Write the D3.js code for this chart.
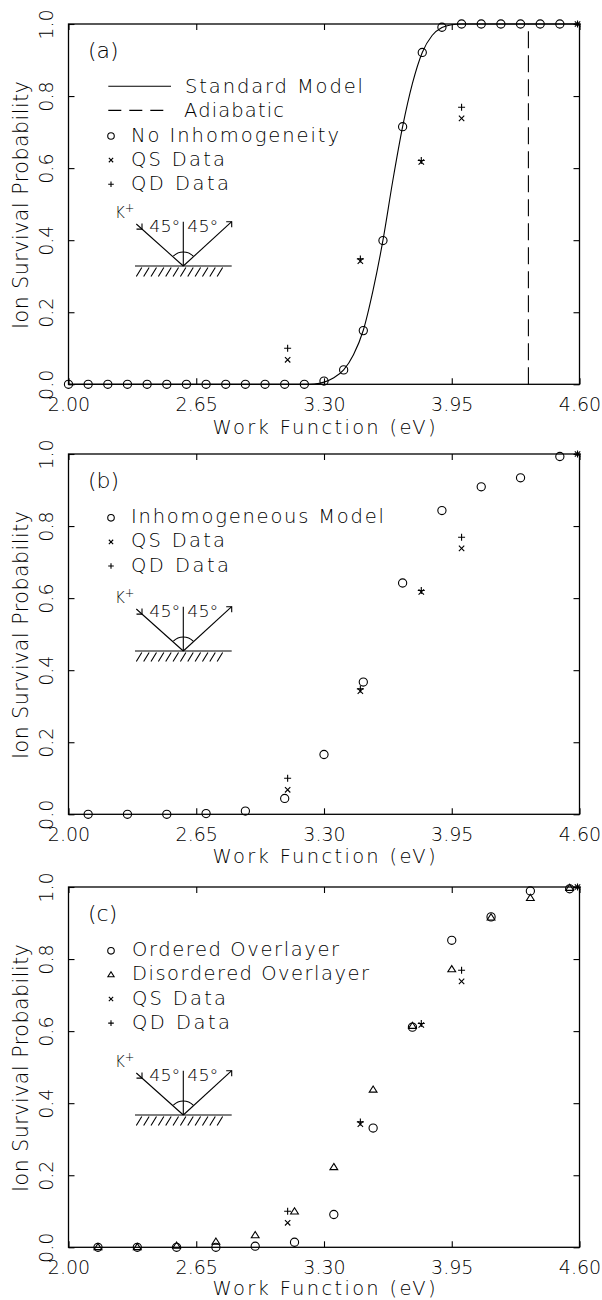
<!DOCTYPE html>
<html><head><meta charset="utf-8">
<script src="https://cdn.jsdelivr.net/npm/d3@7/dist/d3.min.js"></script>
<style>html,body{margin:0;padding:0;background:#fff;}svg{display:block;}</style>
</head><body>
<script>
// ---------------- data ----------------
const xTicks = [2.00, 2.65, 3.30, 3.95, 4.60];
const yTicks = [0.0, 0.2, 0.4, 0.6, 0.8, 1.0];

// measured data (same in all panels)
const qsX = [3.115, 3.485, 3.795, 4.00, 4.59];
const qsY = [0.068, 0.342, 0.617, 0.738, 1.0];
const qdX = [3.115, 3.485, 3.795, 4.00, 4.59];
const qdY = [0.100, 0.348, 0.621, 0.769, 1.0];

// panel (a)
const noInhomX = [2.0,2.1,2.2,2.3,2.4,2.5,2.6,2.7,2.8,2.9,3.0,3.1,3.2,3.3,3.4,3.5,3.6,3.7,3.8,3.9,4.0,4.1,4.2,4.3,4.4,4.5];
const noInhomY = [0,0,0,0,0,0,0,0,0,0,0,0,0,0.009,0.040,0.149,0.399,0.715,0.921,0.991,1,1,1,1,1,1];
const standardX = [2.0, 3.20, 3.25, 3.30, 3.35, 3.40, 3.45, 3.50, 3.55, 3.60, 3.65, 3.70, 3.75, 3.80, 3.85, 3.90, 3.95, 4.00, 4.60];
const standardY = [0, 0, 0.001, 0.006, 0.018, 0.040, 0.082, 0.150, 0.262, 0.400, 0.565, 0.715, 0.835, 0.921, 0.968, 0.990, 0.998, 1.0, 1.0];
const adiabaticX = 4.34;

// panel (b)
const inhomX = [2.1,2.3,2.5,2.7,2.9,3.1,3.3,3.5,3.7,3.9,4.1,4.3,4.5];
const inhomY = [0,0,0,0.002,0.009,0.044,0.166,0.367,0.642,0.843,0.909,0.934,0.993];

// panel (c)
const overX = [2.15,2.35,2.55,2.75,2.95,3.15,3.35,3.55,3.75,3.95,4.15,4.35,4.55];
const orderedY = [0,0,0,0,0.003,0.014,0.091,0.331,0.611,0.852,0.917,0.989,0.995];
const disorderedY = [0,0,0.004,0.015,0.033,0.099,0.222,0.437,0.614,0.771,0.915,0.969,0.997];

const panelLabels = ["(a)", "(b)", "(c)"];
const xTitle = "Work Function (eV)";
const yTitle = "Ion Survival Probability";

// ---------------- layout ----------------
const W = 602, H = 1300;
const L = 68.5, R = 579.5;
const PH = 360.3;
const INK = "#000";
const FONT = "'DejaVu Sans', sans-serif";
const FW = 200;

const svg = d3.select("body").append("svg").attr("width", W).attr("height", H)
  .style("font-family", FONT).style("font-weight", FW);

const zip = (xs, ys) => xs.map((x, i) => [x, ys[i]]);

const panels = [
  {
    top: 24, inset: 266, titleDy: 49.5,
    legend: [
      {t: "line", label: "Standard Model", tx: 185, len: 178},
      {t: "dash", label: "Adiabatic", tx: 184, len: 100},
      {t: "circle", label: "No Inhomogeneity", tx: 131, len: 208},
      {t: "cross", label: "QS Data", tx: 131, len: 94},
      {t: "plus", label: "QD Data", tx: 131, len: 98}
    ],
    series: [
      {t: "circle", pts: zip(noInhomX, noInhomY)},
      {t: "cross", pts: zip(qsX, qsY)},
      {t: "plus", pts: zip(qdX, qdY)}
    ],
    curve: zip(standardX, standardY),
    adiabatic: adiabaticX
  },
  {
    top: 454, inset: 651, titleDy: 48.5,
    legend: [
      {t: "circle", label: "Inhomogeneous Model", tx: 131, len: 253},
      {t: "cross", label: "QS Data", tx: 131, len: 94},
      {t: "plus", label: "QD Data", tx: 131, len: 98}
    ],
    series: [
      {t: "circle", pts: zip(inhomX, inhomY)},
      {t: "cross", pts: zip(qsX, qsY)},
      {t: "plus", pts: zip(qdX, qdY)}
    ]
  },
  {
    top: 887, inset: 1115, titleDy: 48,
    legend: [
      {t: "circle", label: "Ordered Overlayer", tx: 132, len: 207},
      {t: "tri", label: "Disordered Overlayer", tx: 132, len: 237},
      {t: "cross", label: "QS Data", tx: 132, len: 94},
      {t: "plus", label: "QD Data", tx: 132, len: 98}
    ],
    series: [
      {t: "circle", pts: zip(overX, orderedY)},
      {t: "tri", pts: zip(overX, disorderedY)},
      {t: "cross", pts: zip(qsX, qsY)},
      {t: "plus", pts: zip(qdX, qdY)}
    ]
  }
];

function marker(g, t, cx, cy, s) {
  s = s || 1;
  if (t === "circle") {
    g.append("circle").attr("cx", cx).attr("cy", cy).attr("r", 4.1 * s)
      .attr("fill", "none").attr("stroke", INK).attr("stroke-width", 1.1);
  } else if (t === "cross") {
    const a = 2.7 * s;
    g.append("path").attr("d", `M${cx-a},${cy-a}L${cx+a},${cy+a}M${cx-a},${cy+a}L${cx+a},${cy-a}`)
      .attr("stroke", INK).attr("stroke-width", 1.1).attr("fill", "none");
  } else if (t === "plus") {
    const a = 3.5 * s;
    g.append("path").attr("d", `M${cx-a},${cy}H${cx+a}M${cx},${cy-a}V${cy+a}`)
      .attr("stroke", INK).attr("stroke-width", 1.1).attr("fill", "none");
  } else if (t === "tri") {
    const w = 3.9 * s, h1 = 3.9 * s, h2 = 2.3 * s;
    g.append("path").attr("d", `M${cx},${cy-h1}L${cx+w},${cy+h2}L${cx-w},${cy+h2}Z`)
      .attr("stroke", INK).attr("stroke-width", 1.1).attr("fill", "none");
  }
}

function inset(g, vy) {
  const vx = 183.3;
  const line = (d) => g.append("path").attr("d", d)
    .attr("stroke", INK).attr("stroke-width", 1.1).attr("fill", "none");
  // incoming ray and arrow head
  line(`M${vx-47},${vy-42}L${vx},${vy}`);
  const t1x = vx - 41.3, t1y = vy - 36.9;
  line(`M${t1x-5.5},${t1y}L${t1x},${t1y}L${t1x},${t1y-5.5}`);
  // outgoing ray with arrow head
  const t2x = vx + 48.4, t2y = vy - 44.3;
  line(`M${vx},${vy}L${t2x},${t2y}`);
  line(`M${t2x-5.5},${t2y}L${t2x},${t2y}L${t2x},${t2y+5.5}`);
  // normal
  line(`M${vx},${vy-44.3}L${vx},${vy}`);
  // surface
  line(`M${vx-48.3},${vy}L${vx+48.4},${vy}`);
  // hatches
  let hd = "";
  for (let i = 0; i < 12; i++) {
    const bx = vx - 47 + 7.35 * i;
    hd += `M${bx},${vy+10.5}L${bx+5.5},${vy+1.5}`;
  }
  line(hd);
  // arc
  const r = 14;
  const a0 = -3 * Math.PI / 4, a1 = -Math.PI / 4;
  line(`M${vx + r*Math.cos(a0)},${vy + r*Math.sin(a0)}A${r},${r} 0 0 1 ${vx + r*Math.cos(a1)},${vy + r*Math.sin(a1)}`);
  // texts
  const k = g.append("text").attr("x", vx - 68.3).attr("y", vy - 47.7)
    .attr("font-size", 15).attr("fill", INK);
  k.append("tspan").text("K");
  k.append("tspan").attr("dy", -6).attr("font-size", 11.5).text("+");
  g.append("text").attr("x", vx - 34).attr("y", vy - 34.3).attr("font-size", 15)
    .attr("fill", INK).attr("textLength", 31).attr("lengthAdjust", "spacingAndGlyphs").text("45°");
  g.append("text").attr("x", vx + 4).attr("y", vy - 34.3).attr("font-size", 15)
    .attr("fill", INK).attr("textLength", 31).attr("lengthAdjust", "spacingAndGlyphs").text("45°");
}

panels.forEach((p, pi) => {
  const T = p.top, B = T + PH;
  const x = d3.scaleLinear().domain([2.0, 4.6]).range([L, R]);
  const y = d3.scaleLinear().domain([0, 1]).range([B, T]);
  const g = svg.append("g");

  // axes (inward ticks)
  const gx = g.append("g").attr("transform", `translate(0,${B})`)
    .call(d3.axisBottom(x).tickValues(xTicks).tickSize(-6).tickFormat(d3.format(".2f")));
  gx.select(".domain").remove();
  gx.selectAll("line").attr("stroke", INK).attr("stroke-width", 1.1);
  gx.selectAll("text").attr("y", 26.5).attr("dy", null).attr("font-size", 19)
    .attr("fill", INK).style("font-family", FONT).style("font-weight", FW);

  const gt = g.append("g").attr("transform", `translate(0,${T})`)
    .call(d3.axisTop(x).tickValues(xTicks).tickSize(-6).tickFormat(""));
  gt.select(".domain").remove();
  gt.selectAll("line").attr("stroke", INK).attr("stroke-width", 1.1);

  const gy = g.append("g").attr("transform", `translate(${L},0)`)
    .call(d3.axisLeft(y).tickValues(yTicks).tickSize(-6).tickFormat(d3.format(".1f")));
  gy.select(".domain").remove();
  gy.selectAll("line").attr("stroke", INK).attr("stroke-width", 1.1);
  gy.selectAll("text").attr("x", null).attr("dy", null)
    .attr("transform", "translate(-15.8,0) rotate(-90)")
    .attr("text-anchor", "middle").attr("font-size", 19)
    .attr("fill", INK).style("font-family", FONT).style("font-weight", FW);

  const gr = g.append("g").attr("transform", `translate(${R},0)`)
    .call(d3.axisRight(y).tickValues(yTicks).tickSize(-6).tickFormat(""));
  gr.select(".domain").remove();
  gr.selectAll("line").attr("stroke", INK).attr("stroke-width", 1.1);

  // frame
  g.append("rect").attr("x", L).attr("y", T).attr("width", R - L).attr("height", B - T)
    .attr("fill", "none").attr("stroke", INK).attr("stroke-width", 1.3);

  // titles
  g.append("text").attr("x", (L + R) / 2).attr("y", B + p.titleDy).attr("text-anchor", "middle")
    .attr("font-size", 19.5).attr("fill", INK).attr("textLength", 223)
    .attr("lengthAdjust", "spacing").text(xTitle);
  g.append("text").attr("transform", `translate(28,${T + 181}) rotate(-90)`)
    .attr("text-anchor", "middle").attr("font-size", 20.5).attr("fill", INK)
    .attr("textLength", 248).attr("lengthAdjust", "spacing").text(yTitle);

  g.append("text").attr("x", 88).attr("y", T + 33.5).attr("font-size", 22)
    .attr("fill", INK).text(panelLabels[pi]);

  // legend
  p.legend.forEach((e, i) => {
    const by = T + 69.3 + 24.1 * i;
    if (e.t === "line" || e.t === "dash") {
      g.append("line").attr("x1", 108.3).attr("x2", 171).attr("y1", by - 7).attr("y2", by - 7)
        .attr("stroke", INK).attr("stroke-width", 1.1)
        .attr("stroke-dasharray", e.t === "dash" ? "13,8" : null);
    } else {
      marker(g, e.t, 111, by - 5.5, 0.8);
    }
    g.append("text").attr("x", e.tx).attr("y", by).attr("font-size", 19.5).attr("fill", INK)
      .attr("textLength", e.len).attr("lengthAdjust", "spacing").text(e.label);
  });

  inset(g, p.inset);

  // model curve and adiabatic line
  if (p.curve) {
    g.append("path").datum(p.curve)
      .attr("d", d3.line().x(d => x(d[0])).y(d => y(d[1])).curve(d3.curveMonotoneX))
      .attr("fill", "none").attr("stroke", INK).attr("stroke-width", 1.1);
  }
  if (p.adiabatic) {
    g.append("line").attr("x1", x(p.adiabatic)).attr("x2", x(p.adiabatic))
      .attr("y1", y(0)).attr("y2", y(1))
      .attr("stroke", INK).attr("stroke-width", 1.1).attr("stroke-dasharray", "17,7");
  }

  // series markers
  p.series.forEach(s => {
    s.pts.forEach(d => marker(g, s.t, x(d[0]), y(d[1]), 1));
  });
});
</script>
</body></html>
